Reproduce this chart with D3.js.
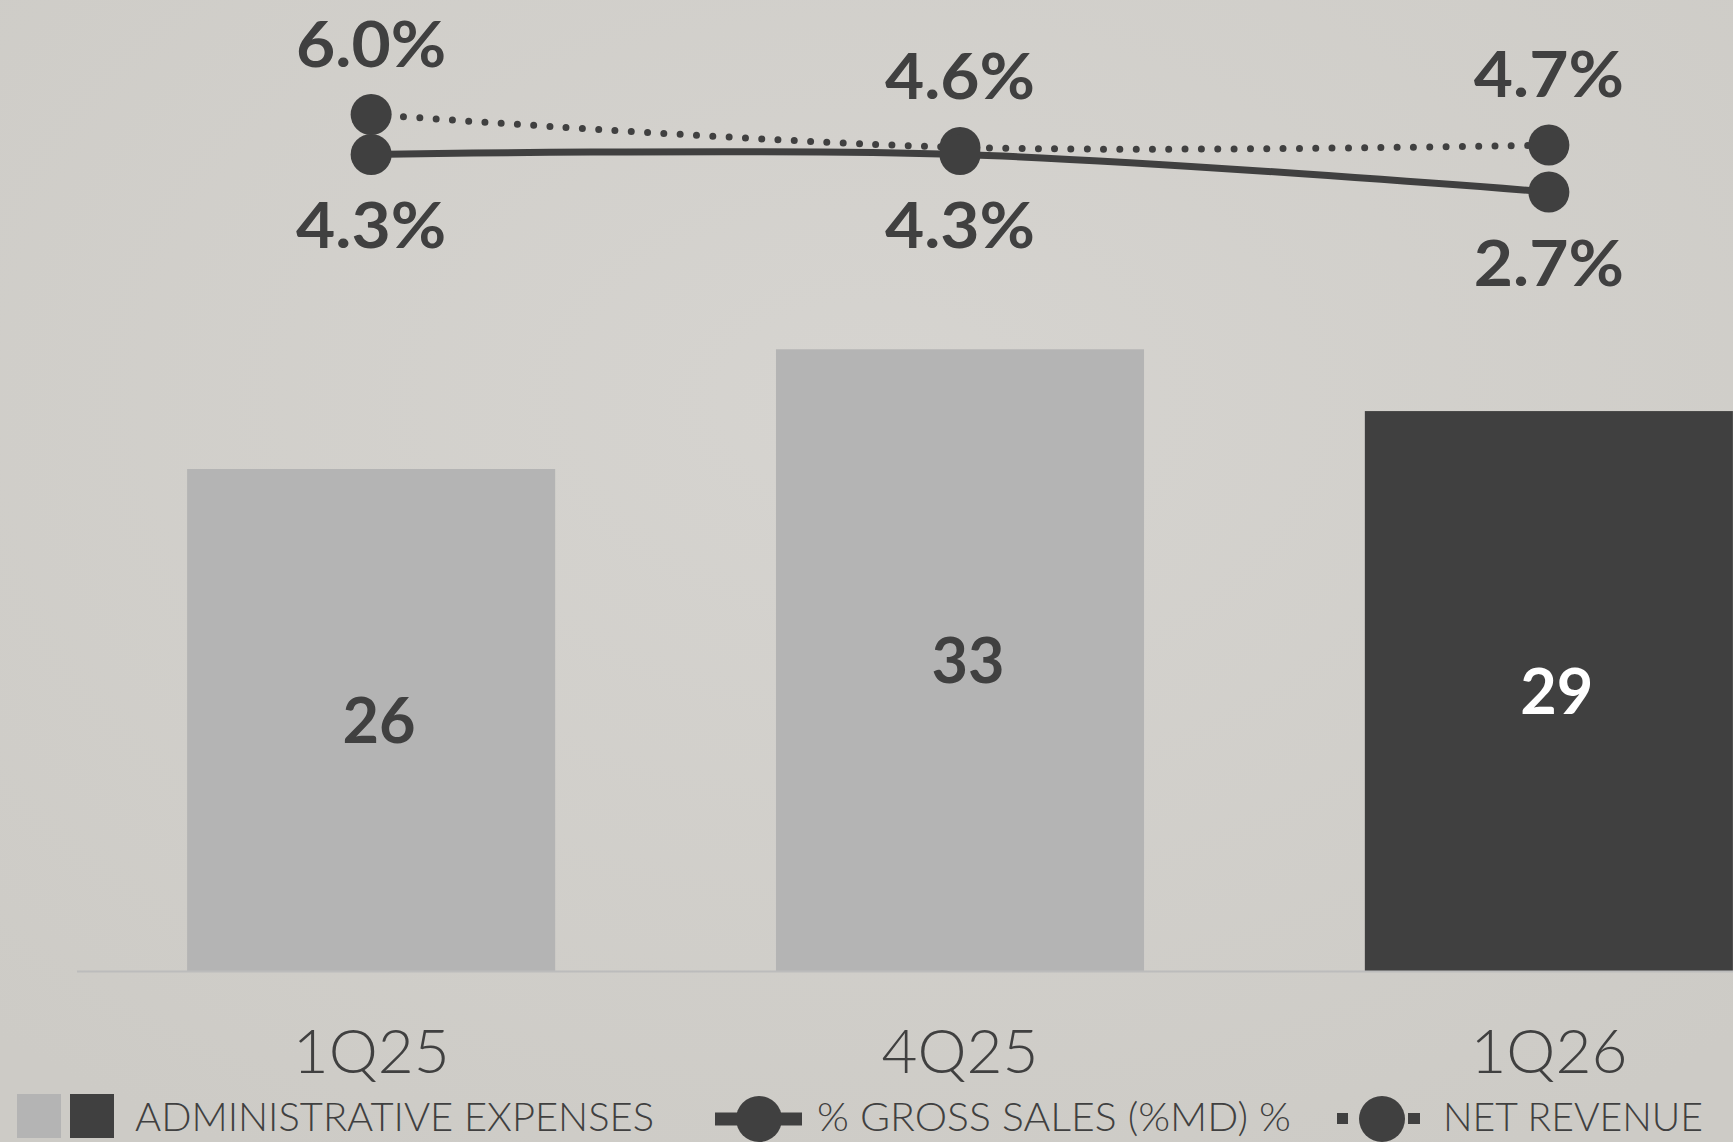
<!DOCTYPE html>
<html>
<head>
<meta charset="utf-8">
<script src="https://cdn.jsdelivr.net/npm/d3@7/dist/d3.min.js"></script>
<style>
  html, body { margin: 0; padding: 0; background: #d0cec9; overflow: hidden; }
  svg { display: block; }
  text { font-family: Lato, "Open Sans", Roboto, sans-serif; }
</style>
</head>
<body>
<svg id="chart" width="1733" height="1142"></svg>
<script>
// ---- data ----
const categories = ["1Q25", "4Q25", "1Q26"];
const adminExpenses = [26.0, 32.2, 29.0];          // bar heights
const adminLabels = ["26", "33", "29"];            // printed bar labels
const grossSalesPct = [4.3, 4.3, 2.7];             // solid line
const netRevenuePct = [6.0, 4.6, 4.7];             // dotted line
const highlight = [false, false, true];
const legendLabels = ["ADMINISTRATIVE EXPENSES", "% GROSS SALES (%MD) %", "NET REVENUE"];

// ---- styles ----
const LIGHT = "#b4b4b4", DARK = "#404040", TEXT = "#404040";

const svg = d3.select("#chart");
const W = 1733, H = 1142;

// paper background
const defs = svg.append("defs");
const grad = defs.append("radialGradient").attr("id", "paper")
  .attr("cx", "50%").attr("cy", "35%").attr("r", "75%");
grad.append("stop").attr("offset", "0%").attr("stop-color", "#d6d4d0");
grad.append("stop").attr("offset", "100%").attr("stop-color", "#cdcbc6");
svg.append("rect").attr("width", W).attr("height", H).attr("fill", "url(#paper)");

// ---- scales ----
const x = d3.scaleBand().domain(categories).range([77, 1843])
  .paddingInner(0.375).paddingOuter(0.187);
const yBar = d3.scaleLinear().domain([0, 26]).range([971, 469]);
const yPct = d3.scaleLinear().domain([0, 6]).range([255.5, 114.5]);
const cx = d => x(d) + x.bandwidth() / 2;

// ---- bars ----
svg.append("g").selectAll("rect").data(categories).join("rect")
  .attr("x", d => x(d))
  .attr("y", (d, i) => yBar(adminExpenses[i]))
  .attr("width", x.bandwidth())
  .attr("height", (d, i) => yBar(0) - yBar(adminExpenses[i]))
  .attr("fill", (d, i) => highlight[i] ? DARK : LIGHT);

// baseline
svg.append("line").attr("x1", 77).attr("x2", W)
  .attr("y1", yBar(0) + 0.5).attr("y2", yBar(0) + 0.5)
  .attr("stroke", "#bcbcbc").attr("stroke-width", 2);

// bar labels
svg.append("g").selectAll("text").data(categories).join("text")
  .attr("x", d => cx(d) + 8)
  .attr("y", (d, i) => (yBar(adminExpenses[i]) + yBar(0)) / 2 + 23)
  .attr("text-anchor", "middle")
  .attr("font-size", 63).attr("font-weight", 700)
  .attr("fill", (d, i) => highlight[i] ? "#ffffff" : TEXT)
  .text((d, i) => adminLabels[i]);

// category axis labels
const xAxis = d3.axisBottom(x).tickSize(0).tickPadding(0);
const gx = svg.append("g").attr("transform", "translate(0,1073)").call(xAxis);
gx.select(".domain").remove();
gx.selectAll("text")
  .attr("dy", 0).attr("y", 0)
  .attr("font-size", 62).attr("font-weight", 300)
  .attr("font-family", "Lato, 'Open Sans', sans-serif")
  .attr("fill", TEXT);

// ---- lines ----
const line = d3.line().x(d => cx(d.c)).y(d => yPct(d.v)).curve(d3.curveCatmullRom.alpha(0.5));
const netData = categories.map((c, i) => ({ c, v: netRevenuePct[i] }));
const grossData = categories.map((c, i) => ({ c, v: grossSalesPct[i] }));

svg.append("path").datum(netData).attr("d", line)
  .attr("fill", "none").attr("stroke", DARK).attr("stroke-width", 7)
  .attr("stroke-linecap", "round").attr("stroke-dasharray", "0 16.3");
svg.append("g").selectAll("circle").data(netData).join("circle")
  .attr("cx", d => cx(d.c)).attr("cy", d => yPct(d.v)).attr("r", 20.5).attr("fill", DARK);

svg.append("path").datum(grossData).attr("d", line)
  .attr("fill", "none").attr("stroke", DARK).attr("stroke-width", 7);
svg.append("g").selectAll("circle").data(grossData).join("circle")
  .attr("cx", d => cx(d.c)).attr("cy", d => yPct(d.v)).attr("r", 20.5).attr("fill", DARK);

const fmt = d3.format(".1f");
svg.append("g").selectAll("text").data(netData).join("text")
  .attr("x", d => cx(d.c)).attr("y", d => yPct(d.v) - 48)
  .attr("text-anchor", "middle").attr("font-size", 63).attr("font-weight", 700)
  .attr("textLength", 150).attr("lengthAdjust", "spacingAndGlyphs")
  .attr("fill", TEXT).text(d => fmt(d.v) + "%");
svg.append("g").selectAll("text").data(grossData).join("text")
  .attr("x", d => cx(d.c)).attr("y", d => yPct(d.v) + 94)
  .attr("text-anchor", "middle").attr("font-size", 63).attr("font-weight", 700)
  .attr("textLength", 150).attr("lengthAdjust", "spacingAndGlyphs")
  .attr("fill", TEXT).text(d => fmt(d.v) + "%");

// ---- legend ----
const lg = svg.append("g");
const ly = 1119;
const lty = 1131;
lg.append("rect").attr("x", 17).attr("y", 1094).attr("width", 44).attr("height", 44).attr("fill", LIGHT);
lg.append("rect").attr("x", 70).attr("y", 1094).attr("width", 44).attr("height", 44).attr("fill", DARK);
lg.append("text").attr("x", 135).attr("y", lty).attr("font-size", 40).attr("font-weight", 300)
  .attr("textLength", 519).attr("lengthAdjust", "spacingAndGlyphs")
  .attr("fill", TEXT).text(legendLabels[0]);

lg.append("line").attr("x1", 715).attr("x2", 802).attr("y1", ly).attr("y2", ly)
  .attr("stroke", DARK).attr("stroke-width", 13);
lg.append("circle").attr("cx", 759).attr("cy", ly).attr("r", 23).attr("fill", DARK);
lg.append("text").attr("x", 817).attr("y", lty).attr("font-size", 40).attr("font-weight", 300)
  .attr("textLength", 474).attr("lengthAdjust", "spacingAndGlyphs")
  .attr("fill", TEXT).text(legendLabels[1]);

lg.append("rect").attr("x", 1337).attr("y", ly - 6).attr("width", 11).attr("height", 11).attr("fill", DARK);
lg.append("rect").attr("x", 1408).attr("y", ly - 6).attr("width", 12).attr("height", 11).attr("fill", DARK);
lg.append("circle").attr("cx", 1382).attr("cy", ly).attr("r", 23).attr("fill", DARK);
lg.append("text").attr("x", 1443).attr("y", lty).attr("font-size", 40).attr("font-weight", 300)
  .attr("textLength", 260).attr("lengthAdjust", "spacingAndGlyphs")
  .attr("fill", TEXT).text(legendLabels[2]);
</script>
</body>
</html>
